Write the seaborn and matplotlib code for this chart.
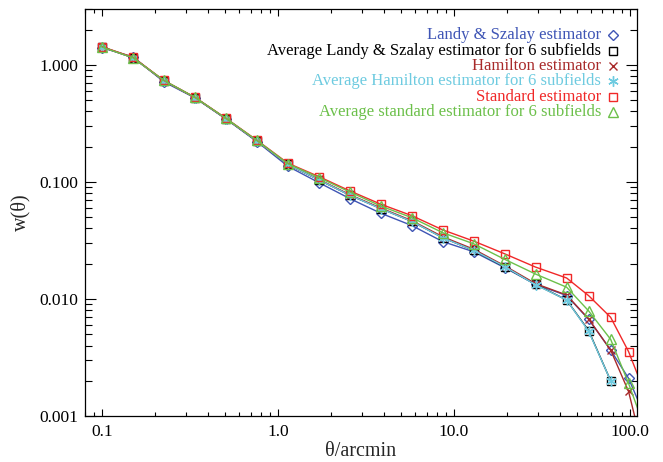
import numpy as np
import pandas as pd
import matplotlib
matplotlib.use("Agg")
import matplotlib.pyplot as plt
import matplotlib.ticker as mticker
import seaborn as sns

# ---------------- data ----------------
theta = [0.1, 0.15, 0.225, 0.3375, 0.506, 0.759, 1.139, 1.709, 2.563, 3.844,
         5.767, 8.65, 12.97, 19.46, 29.19, 43.79, 58.4, 77.9, 98.5, 130.0]

ls_est = [1.40, 1.17, 0.715, 0.522, 0.345, 0.221, 0.136, 0.0986, 0.072, 0.054,
          0.0424, 0.0309, 0.0253, 0.0185, 0.0133, 0.0107, 0.0067, 0.00366, 0.0021, 0.00079]
avg_ls = [1.42, 1.15, 0.73, 0.525, 0.347, 0.224, 0.141, 0.104, 0.077, 0.0592,
          0.046, 0.0334, 0.026, 0.0188, 0.0133, 0.0098, 0.00536, 0.0020, np.nan, np.nan]
ham_est = [1.42, 1.15, 0.73, 0.525, 0.347, 0.224, 0.141, 0.105, 0.0778, 0.0598,
           0.0467, 0.034, 0.0266, 0.0192, 0.0135, 0.0108, 0.00675, 0.00366, 0.00162, 0.0003]
avg_ham = [1.42, 1.15, 0.73, 0.525, 0.347, 0.224, 0.141, 0.104, 0.077, 0.059,
           0.046, 0.0333, 0.026, 0.0189, 0.0132, 0.0098, 0.0053, 0.0020, np.nan, np.nan]
std_est = [1.43, 1.16, 0.735, 0.528, 0.35, 0.227, 0.1445, 0.111, 0.0838, 0.0645,
           0.0515, 0.0389, 0.0312, 0.0243, 0.0187, 0.0151, 0.01067, 0.00697, 0.00355, 0.00123]
avg_std = [1.42, 1.15, 0.735, 0.527, 0.349, 0.226, 0.143, 0.109, 0.082, 0.0622,
           0.0495, 0.0368, 0.0296, 0.0218, 0.0163, 0.0126, 0.0079, 0.00452, 0.0019, 0.0006]

labels = ["Landy & Szalay estimator",
          "Average Landy & Szalay estimator for 6 subfields",
          "Hamilton estimator",
          "Average Hamilton estimator for 6 subfields",
          "Standard estimator",
          "Average standard estimator for 6 subfields"]
series = [ls_est, avg_ls, ham_est, avg_ham, std_est, avg_std]

xticks = [0.1, 1.0, 10.0, 100.0]
xticklabels = ["0.1", "1.0", "10.0", "100.0"]
yticks = [0.001, 0.01, 0.1, 1.0]
yticklabels = ["0.001", "0.010", "0.100", "1.000"]

# ---------------- style ----------------
colors = ["#3f55b5", "#000000", "#a82a2a", "#6ecbe0", "#f02828", "#6cc04a"]
markers = ["D", "s", "x", (6, 2, 0), "s", "^"]
msizes = [4.8, 6.0, 6.0, 7.5, 6.0, 6.5]

sns.set_theme(style="ticks")
plt.rcParams["font.family"] = ["Liberation Serif", "DejaVu Serif"]
plt.rcParams["mathtext.fontset"] = "stix"

fig = plt.figure(figsize=(6.63, 4.62), dpi=100)
ax = fig.add_axes([85 / 663, 1 - 416 / 462, 552 / 663, 407 / 462])

for lab, vals, c, m, ms in zip(labels, series, colors, markers, msizes):
    df = pd.DataFrame({"theta": theta, "w": vals}).dropna()
    sns.lineplot(data=df, x="theta", y="w", ax=ax, color=c, marker=m,
                 markersize=ms, markerfacecolor="none", markeredgecolor=c,
                 markeredgewidth=1.0, linewidth=1.0, estimator=None,
                 sort=False, legend=False)

ax.set_xscale("log")
ax.set_yscale("log")
ax.set_xlim(0.08, 110)
ax.set_ylim(0.001, 3.0)

ax.xaxis.set_major_locator(mticker.FixedLocator(xticks))
ax.xaxis.set_major_formatter(mticker.FixedFormatter(xticklabels))
ax.yaxis.set_major_locator(mticker.FixedLocator(yticks))
ax.yaxis.set_major_formatter(mticker.FixedFormatter(yticklabels))
ax.xaxis.set_minor_locator(mticker.LogLocator(base=10, subs=np.arange(2, 10), numticks=20))
ax.yaxis.set_minor_locator(mticker.LogLocator(base=10, subs=np.arange(2, 10), numticks=20))
ax.xaxis.set_minor_formatter(mticker.NullFormatter())
ax.yaxis.set_minor_formatter(mticker.NullFormatter())

ax.tick_params(axis="both", which="both", direction="in", top=True, right=True,
               colors="black", labelsize=12.5, width=0.8)
ax.tick_params(axis="x", which="major", length=5.2, pad=6)
ax.tick_params(axis="x", which="minor", length=2.6)
ax.tick_params(axis="y", which="major", length=7.8, pad=5)
ax.tick_params(axis="y", which="minor", length=4.8)
for sp in ax.spines.values():
    sp.set_linewidth(0.9)
    sp.set_color("black")

ax.set_xlabel("θ/arcmin", fontsize=14.5, labelpad=1)
ax.set_ylabel("w(θ)", fontsize=14.5, labelpad=6)

# legend (right aligned text with marker after it)
row_y = [0.936, 0.898, 0.860, 0.823, 0.785, 0.748]
for lab, c, m, ms, yy in zip(labels, colors, markers, msizes, row_y):
    ax.text(0.935, yy, lab, transform=ax.transAxes, ha="right", va="center",
            color=c, fontsize=12)
    ax.plot([0.956], [yy], transform=ax.transAxes, marker=m, markersize=ms,
            markerfacecolor="none", markeredgecolor=c, markeredgewidth=1.0,
            linestyle="none", clip_on=False)

fig.savefig("out.png", dpi=100)
